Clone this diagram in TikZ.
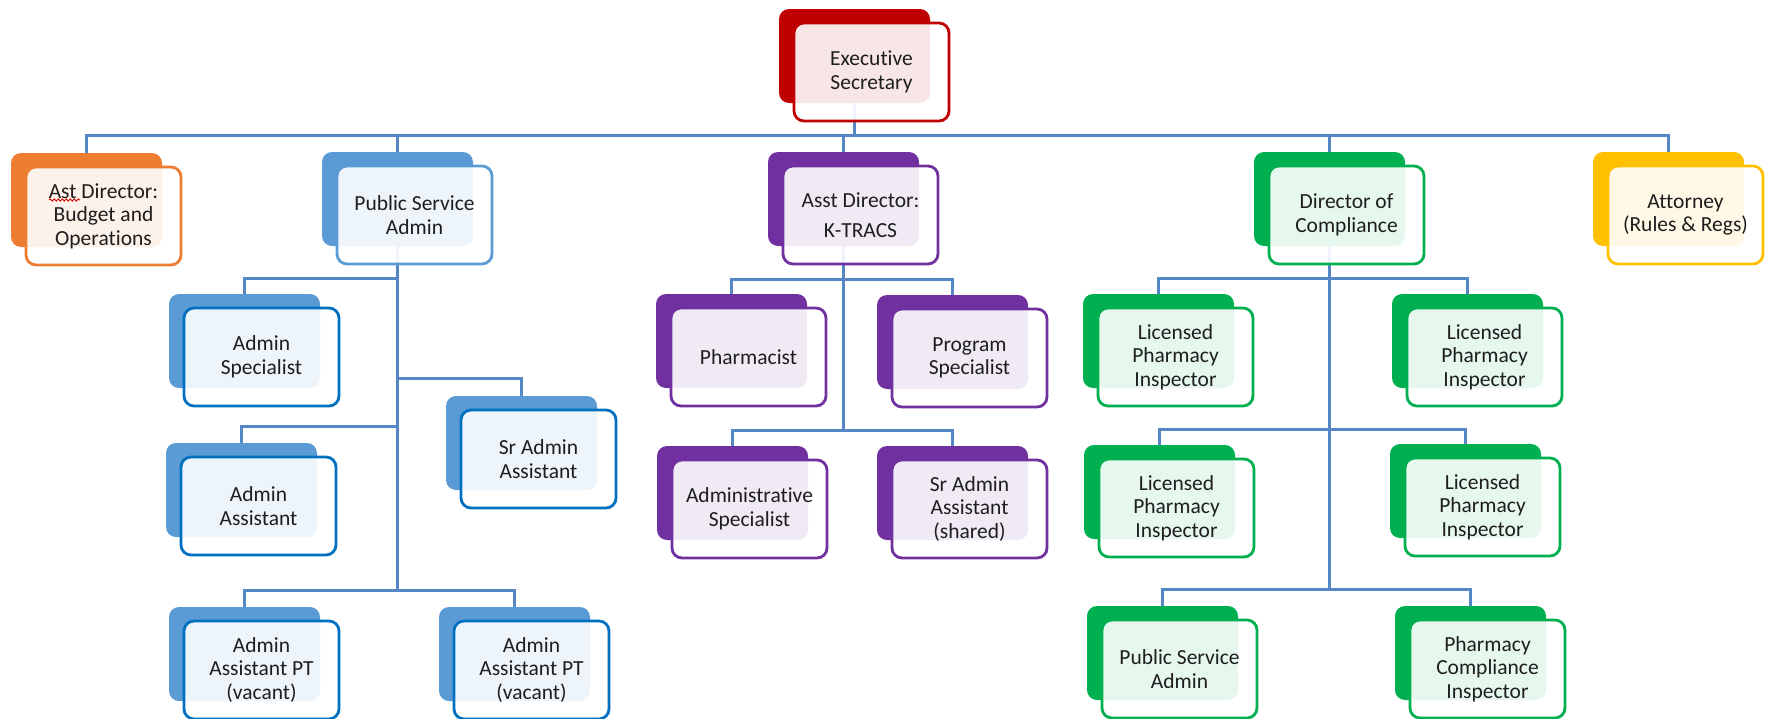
\documentclass[tikz,border=0pt]{standalone}
\usepackage{fontspec}
\setmainfont[Ligatures=NoCommon]{Carlito}
\usetikzlibrary{decorations.pathmorphing}
\pgfdeclarelayer{bg}
\pgfsetlayers{bg,main}

\definecolor{cRed}{HTML}{C00000}
\definecolor{cOrange}{HTML}{ED7D31}
\definecolor{cBlue}{HTML}{5B9BD5}
\definecolor{cBlueDark}{HTML}{0070C0}
\definecolor{cPurple}{HTML}{7030A0}
\definecolor{cGreen}{HTML}{00B050}
\definecolor{cGold}{HTML}{FFC000}
\definecolor{connc}{RGB}{84,135,196}
\definecolor{ink}{RGB}{30,30,30}

\tikzset{
  backbox/.style={rectangle, rounded corners=10pt, minimum width=151pt,
    minimum height=94pt, inner sep=0pt, draw=none},
  frontbox/.style={rectangle, rounded corners=10pt, minimum width=155pt,
    minimum height=98pt, inner sep=0pt, line width=2.8pt, fill=white,
    fill opacity=0.9, text opacity=1, align=center, text=ink,
    font=\fontsize{21.5pt}{23.5pt}\selectfont},
  conn/.style={draw=connc, line width=3pt}
}

% \orgunit{name}{back colour}{border colour}{left}{top}{text}
\newcommand\orgunit[6]{%
  \node[backbox, fill=#2] (#1-b) at (#4+75.5, #5+47) {};
  \node[frontbox, draw=#3] (#1) at (#4+92.5, #5+63) {#6};
}

\begin{document}
\begin{tikzpicture}[x=1pt, y=-1pt]
\useasboundingbox (0,0) rectangle (1773,718);

% top level
\orgunit{exec}{cRed}{cRed}{779}{9}{Executive\\Secretary}
\orgunit{ast}{cOrange}{cOrange}{11}{153}{Ast Director:\\Budget and\\Operations}
\orgunit{psa}{cBlue}{cBlue}{322}{152}{Public Service\\Admin}
\orgunit{ktr}{cPurple}{cPurple}{768}{152}{Asst Director:\\[7pt]K-TRACS}
\orgunit{comp}{cGreen}{cGreen}{1254}{152}{Director of\\Compliance}
\orgunit{att}{cGold}{cGold}{1593}{152}{Attorney\\(Rules \& Regs)}

% public service admin staff
\orgunit{as1}{cBlue}{cBlueDark}{169}{294}{Admin\\Specialist}
\orgunit{sraa}{cBlue}{cBlueDark}{446}{396}{Sr Admin\\Assistant}
\orgunit{aa}{cBlue}{cBlueDark}{166}{443}{Admin\\Assistant}
\orgunit{pt1}{cBlue}{cBlueDark}{169}{607}{Admin\\Assistant PT\\(vacant)}
\orgunit{pt2}{cBlue}{cBlueDark}{439}{607}{Admin\\Assistant PT\\(vacant)}

% K-TRACS staff
\orgunit{pharm}{cPurple}{cPurple}{656}{294}{Pharmacist}
\orgunit{prog}{cPurple}{cPurple}{877}{295}{Program\\Specialist}
\orgunit{adms}{cPurple}{cPurple}{657}{446}{Administrative\\Specialist}
\orgunit{sras}{cPurple}{cPurple}{877}{446}{Sr Admin\\Assistant\\(shared)}

% compliance staff
\orgunit{lpi1}{cGreen}{cGreen}{1083}{294}{Licensed\\Pharmacy\\Inspector}
\orgunit{lpi2}{cGreen}{cGreen}{1392}{294}{Licensed\\Pharmacy\\Inspector}
\orgunit{lpi3}{cGreen}{cGreen}{1084}{445}{Licensed\\Pharmacy\\Inspector}
\orgunit{lpi4}{cGreen}{cGreen}{1390}{444}{Licensed\\Pharmacy\\Inspector}
\orgunit{psa2}{cGreen}{cGreen}{1087}{606}{Public Service\\Admin}
\orgunit{pci}{cGreen}{cGreen}{1395}{606}{Pharmacy\\Compliance\\Inspector}

% spell-check squiggle
\draw[red!85!black, line width=0.9pt, decorate,
  decoration={snake, amplitude=1.1pt, segment length=4pt}] (49,200) -- (80,200);

% bus levels
\coordinate (busTop) at (0,135);
\coordinate (busP1) at (0,278);
\coordinate (busP2) at (0,378);
\coordinate (busP3) at (0,426);
\coordinate (busP4) at (0,590);
\coordinate (busK1) at (0,279);
\coordinate (busK2) at (0,430);
\coordinate (busC1) at (0,278);
\coordinate (busC2) at (0,429);
\coordinate (busC3) at (0,589);

\begin{pgfonlayer}{bg}
  \foreach \c in {ast,psa,ktr,comp,att}
    \draw[conn] (exec-b.south) |- (\c-b.north |- busTop) -- (\c-b.north);

  \draw[conn] (psa-b.south) |- (as1-b.north |- busP1) -- (as1-b.north);
  \draw[conn] (psa-b.south) |- (sraa-b.north |- busP2) -- (sraa-b.north);
  \draw[conn] (psa-b.south) |- (aa-b.north |- busP3) -- (aa-b.north);
  \draw[conn] (psa-b.south) |- (pt1-b.north |- busP4) -- (pt1-b.north);
  \draw[conn] (psa-b.south) |- (pt2-b.north |- busP4) -- (pt2-b.north);

  \draw[conn] (ktr-b.south) |- (pharm-b.north |- busK1) -- (pharm-b.north);
  \draw[conn] (ktr-b.south) |- (prog-b.north |- busK1) -- (prog-b.north);
  \draw[conn] (ktr-b.south) |- (adms-b.north |- busK2) -- (adms-b.north);
  \draw[conn] (ktr-b.south) |- (sras-b.north |- busK2) -- (sras-b.north);

  \draw[conn] (comp-b.south) |- (lpi1-b.north |- busC1) -- (lpi1-b.north);
  \draw[conn] (comp-b.south) |- (lpi2-b.north |- busC1) -- (lpi2-b.north);
  \draw[conn] (comp-b.south) |- (lpi3-b.north |- busC2) -- (lpi3-b.north);
  \draw[conn] (comp-b.south) |- (lpi4-b.north |- busC2) -- (lpi4-b.north);
  \draw[conn] (comp-b.south) |- (psa2-b.north |- busC3) -- (psa2-b.north);
  \draw[conn] (comp-b.south) |- (pci-b.north |- busC3) -- (pci-b.north);
\end{pgfonlayer}
\end{tikzpicture}
\end{document}
